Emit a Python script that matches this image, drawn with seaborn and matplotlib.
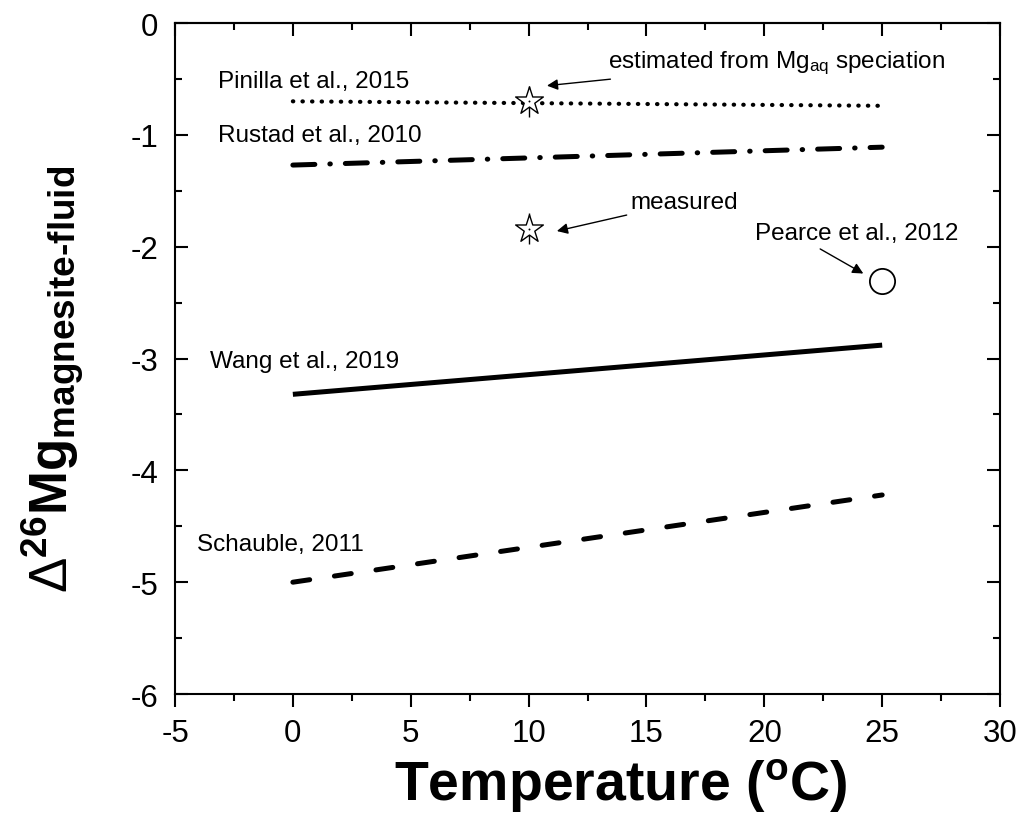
"""Delta26Mg magnesite-fluid fractionation vs temperature."""

import matplotlib
matplotlib.use("Agg")
import matplotlib.pyplot as plt
from matplotlib.ticker import MultipleLocator
import pandas as pd
import seaborn as sns

# line end points (temperature in C, Delta26Mg in permil)
temp_ends = [0, 25]
pinilla = [-0.70, -0.74]
rustad = [-1.27, -1.11]
wang = [-3.32, -2.88]
schauble = [-5.00, -4.22]

# this study (stars) and Pearce et al. (circle)
star_temp = [10, 10]
star_delta = [-0.70, -1.84]
pearce_temp = [25]
pearce_delta = [-2.31]

study_names = ["Pinilla et al., 2015", "Rustad et al., 2010",
               "Wang et al., 2019", "Schauble, 2011"]


sns.set_theme(style="ticks")
plt.rcParams["font.family"] = ["Liberation Sans", "DejaVu Sans"]
plt.rcParams["mathtext.fontset"] = "custom"
plt.rcParams["mathtext.rm"] = "Liberation Sans"
plt.rcParams["mathtext.it"] = "Liberation Sans:italic"
plt.rcParams["mathtext.bf"] = "Liberation Sans:bold"
plt.rcParams["axes.unicode_minus"] = False
plt.rcParams["text.color"] = "black"
plt.rcParams["axes.labelcolor"] = "black"
plt.rcParams["xtick.color"] = "black"
plt.rcParams["ytick.color"] = "black"

lines = pd.DataFrame({
    "T": temp_ends * 4,
    "d": pinilla + rustad + wang + schauble,
    "study": [s for s in study_names for _ in temp_ends],
})

fig = plt.figure(figsize=(10.24, 8.29), dpi=100)
ax = fig.add_axes([0.1709, 0.1616, 0.8057, 0.8094])

styles = {
    "Pinilla et al., 2015": dict(lw=3.0, dashes=(0.1, 2.2)),
    "Rustad et al., 2010": dict(lw=3.6, dashes=(4.4, 3.0, 0.1, 3.0)),
    "Wang et al., 2019": dict(lw=3.6, dashes=()),
    "Schauble, 2011": dict(lw=3.6, dashes=(3.4, 5.0)),
}
for name in study_names:
    st = styles[name]
    sub = lines[lines["study"] == name]
    sns.lineplot(data=sub, x="T", y="d", color="black", lw=st["lw"],
                 ax=ax, legend=False)
    ln = ax.lines[-1]
    if st["dashes"]:
        ln.set_dashes(st["dashes"])
        ln.set_dash_capstyle("round")
    else:
        ln.set_solid_capstyle("butt")

# stars with small vertical error bars
ax.errorbar(star_temp, star_delta, yerr=0.14, fmt="none", ecolor="black",
            elinewidth=1, capsize=0, zorder=3)
sns.scatterplot(x=star_temp, y=star_delta, marker="*", s=440,
                facecolor="white", edgecolor="black", linewidth=1.0,
                zorder=4, ax=ax)
sns.scatterplot(x=star_temp, y=star_delta, marker=".", s=8, color="black",
                linewidth=0, zorder=5, ax=ax)
sns.scatterplot(x=pearce_temp, y=pearce_delta, marker="o", s=330,
                facecolor="white", edgecolor="black", linewidth=1.3,
                zorder=4, ax=ax)

# study labels
fs = 17.5
ax.text(-3.18, -0.52, study_names[0], fontsize=fs, va="center")
ax.text(-3.18, -1.00, study_names[1], fontsize=fs, va="center")
ax.text(-3.52, -3.02, study_names[2], fontsize=fs, va="center")
ax.text(-4.07, -4.66, study_names[3], fontsize=fs, va="center")

arrow = dict(arrowstyle="-|>", color="black", lw=1.0, mutation_scale=16,
             shrinkA=0, shrinkB=0)
ax.annotate(r"estimated from Mg$_{\mathregular{aq}}$ speciation",
            xy=(10.78, -0.56), xytext=(13.35, -0.35), fontsize=fs,
            va="center", arrowprops=arrow)
ax.annotate("measured", xy=(11.2, -1.86), xytext=(14.3, -1.60),
            fontsize=fs, va="center", arrowprops=arrow)
ax.text(19.6, -1.88, "Pearce et al., 2012", fontsize=fs, va="center")
ax.annotate("", xy=(24.2, -2.24), xytext=(22.37, -2.02), arrowprops=arrow)

ax.set_xlim(-5, 30)
ax.set_ylim(-6, 0)
ax.xaxis.set_major_locator(MultipleLocator(5))
ax.xaxis.set_minor_locator(MultipleLocator(2.5))
ax.yaxis.set_major_locator(MultipleLocator(1))
ax.yaxis.set_minor_locator(MultipleLocator(0.5))

for sp in ax.spines.values():
    sp.set_linewidth(1.5)
    sp.set_color("black")

ax.tick_params(axis="x", which="both", direction="out", bottom=True,
               top=False, width=1.5, labelsize=22.5, pad=8)
ax.tick_params(axis="y", which="both", direction="in", left=True,
               right=True, width=1.5, labelsize=22.5, pad=12)
ax.tick_params(which="major", length=9.5)
ax.tick_params(which="minor", length=5)

# top ticks point inward, bottom ones outward
top = ax.secondary_xaxis("top")
top.xaxis.set_major_locator(MultipleLocator(5))
top.xaxis.set_minor_locator(MultipleLocator(2.5))
top.tick_params(which="both", direction="in", width=1.5, labeltop=False)
top.tick_params(which="major", length=9.5)
top.tick_params(which="minor", length=5)
top.spines["top"].set_linewidth(1.5)

ax.set_xlabel(r"Temperature ($^{\mathbf{o}}$C)", fontsize=40,
              fontweight="bold", labelpad=6)
ax.xaxis.label.set_position((0.54, 0))
ylab = (r"$\Delta^{\mathbf{26}}\mathbf{Mg}_{\mathbf{magnesite"
        + "\u2010" + r"fluid}}$")
ax.set_ylabel(ylab, fontsize=38)
ax.yaxis.set_label_coords(-0.108, 0.47)

fig.savefig("out.png", dpi=100, facecolor="white")
